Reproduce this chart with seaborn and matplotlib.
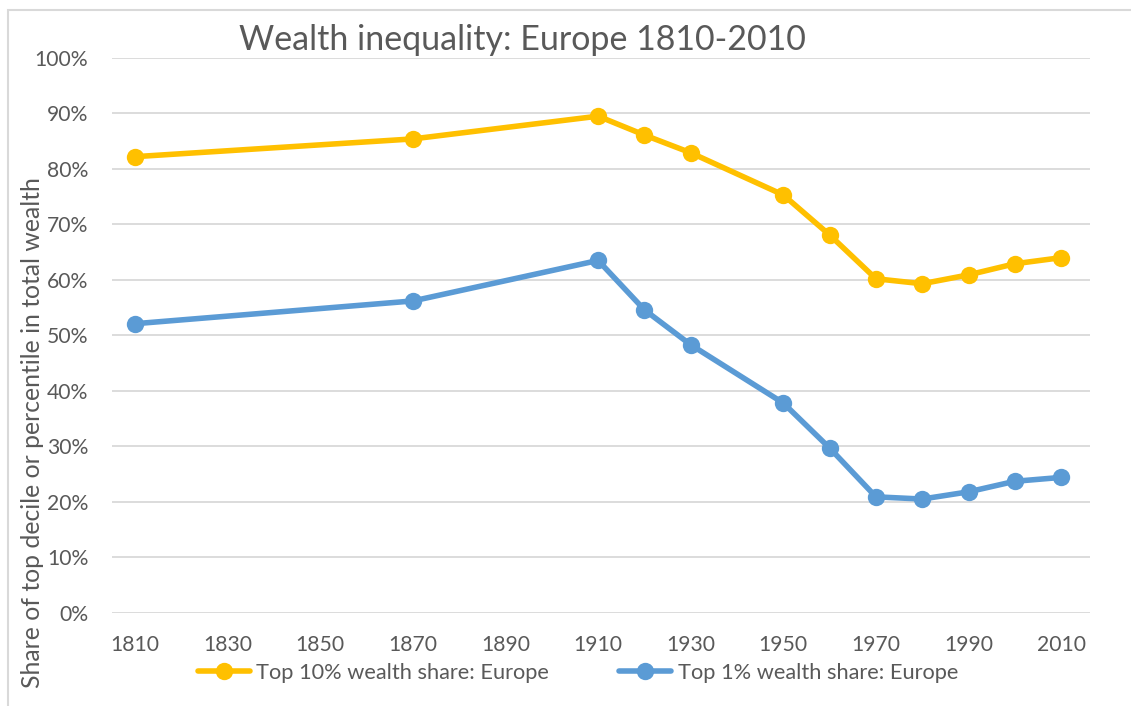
import pandas as pd
import matplotlib.pyplot as plt
import matplotlib.patches as patches
from matplotlib.ticker import PercentFormatter
import seaborn as sns

# data
years = [1810, 1870, 1910, 1920, 1930, 1950, 1960, 1970, 1980, 1990, 2000, 2010]
top10 = [82.2, 85.4, 89.5, 86.1, 82.9, 75.3, 68.1, 60.2, 59.3, 60.9, 62.9, 64.0]
top1 = [52.1, 56.2, 63.5, 54.6, 48.3, 37.8, 29.7, 20.9, 20.5, 21.8, 23.7, 24.4]
series_names = ["Top 10% wealth share: Europe", "Top 1% wealth share: Europe"]
xticks = list(range(1810, 2011, 20))

df = pd.concat([
    pd.DataFrame({"year": years, "share": top10, "series": series_names[0]}),
    pd.DataFrame({"year": years, "share": top1, "series": series_names[1]}),
])

sns.set_style("white")
plt.rcParams["font.family"] = ["Lato", "DejaVu Sans"]
grey = "#595959"
colors = ["#FFC000", "#5B9BD5"]

fig = plt.figure(figsize=(11.31, 7.06), dpi=100)
ax = fig.add_axes([0.099, 0.132, 0.865, 0.786])

sns.lineplot(data=df, x="year", y="share", hue="series",
             palette=colors, marker="o", markersize=12.5,
             markeredgewidth=0, linewidth=4.0, ax=ax, legend=False)

ax.set_xlim(1805, 2016.3)
ax.set_ylim(0, 100)
ax.set_yticks(range(0, 101, 10))
ax.yaxis.set_major_formatter(PercentFormatter(decimals=0))
ax.set_xticks(xticks)
ax.grid(axis="y", color="#D9D9D9", linewidth=1.3)
ax.set_axisbelow(True)
sns.despine(ax=ax, left=True, bottom=True)
ax.tick_params(axis="both", labelsize=15.2, colors=grey, length=0)
ax.tick_params(axis="x", pad=16)
ax.tick_params(axis="y", pad=17)
ax.set_xlabel("")
ax.set_ylabel("")

fig.text(0.029, 0.388, "Share of top decile or percentile in total wealth",
         rotation=90, ha="center", va="center", fontsize=17.8, color=grey)
fig.text(0.462, 0.943, "Wealth inequality: Europe 1810-2010",
         ha="center", va="center", fontsize=24.5, color=grey)

handles = [plt.Line2D([], [], color=c, marker="o", markersize=12.5, linewidth=4.0,
                      markeredgewidth=0) for c in colors]
fig.legend(handles, series_names, loc="center", bbox_to_anchor=(0.511, 0.047),
           ncol=2, frameon=False, fontsize=15.7, labelcolor=grey,
           handlelength=2.4, handletextpad=0.3, columnspacing=3.2)

fig.patches.append(patches.Rectangle((0.007, -0.05), 1.1, 1.036, transform=fig.transFigure,
                                     fill=False, edgecolor="#D9D9D9", linewidth=1.5))

fig.savefig("out.png", dpi=100)
